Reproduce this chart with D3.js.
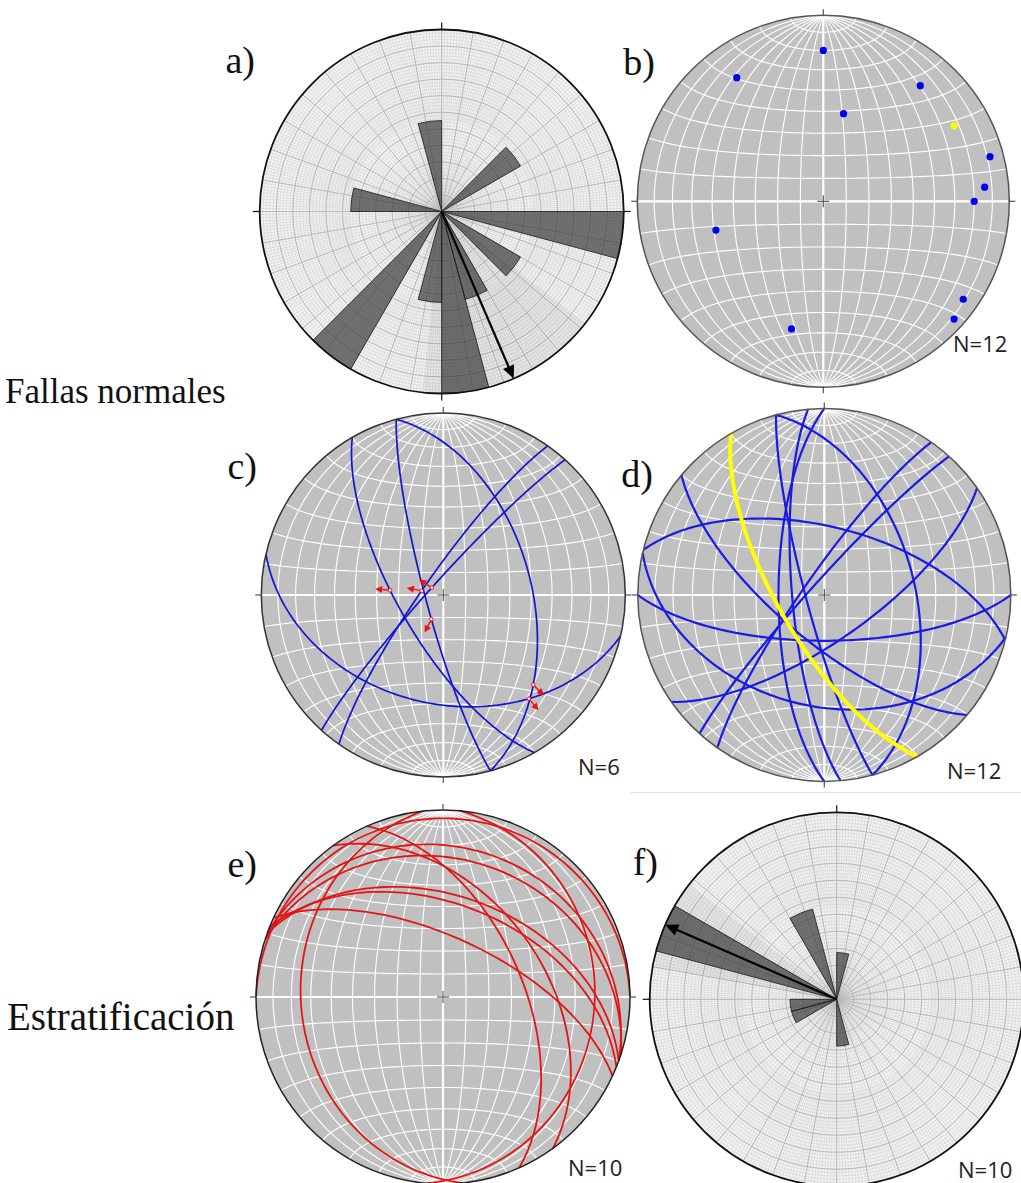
<!DOCTYPE html>
<html>
<head>
<meta charset="utf-8">
<script src="https://cdn.jsdelivr.net/npm/d3@7"></script>
<style>
  body { margin: 0; background: #fff; }
</style>
</head>
<body>
<svg id="fig" width="1021" height="1183"></svg>
<script>
// ---- data ----

// a) rose of fault strikes: 15 degree bins (start azimuth) and counts
var roseABins = [345, 45, 90, 120, 150, 165, 180, 210, 270];
var roseACounts = [1, 1, 2, 1, 1, 2, 1, 2, 1];
var roseAMean = 156.7;
var roseAConf = [128, 186];

// f) rose of bedding
var roseFBins = [285, 330, 0, 255, 240, 165];
var roseFCounts = [4, 2, 1, 1, 1, 1];
var roseFMean = 293.5;
var roseFConf = [280, 308];

// normal faults (dip direction / dip); b) shows their poles, d) their great circles
var faultDipDir = [180, 145, 220, 193, 240, 255, 265, 270, 75, 305, 312, 14];
var faultDip    = [70, 70, 70, 40, 70, 82, 76, 70, 50, 81, 84, 60];
var faultHighlight = 4;   // the yellow one

// c) faults with striae: index into the fault list, rake of the stria (deg from strike)
var striaFault = [4, 9, 10, 5, 8, 3];
var striaRake  = [103.5, 86, 89, 81, 138, 45];

// e) bedding planes (dip direction / dip)
var bedDipDir = [0, 20, 18, 20, 22, 25, 66, 54, 264, 95];
var bedDip    = [5, 21, 27, 45, 49, 64, 55, 45, 25, 20];

// ---- helpers ----
var svg = d3.select("#fig");
var rad = Math.PI / 180;

function lineVec(trend, plunge) {
    var t = trend * rad, p = plunge * rad;
    return [Math.cos(p) * Math.cos(t), Math.cos(p) * Math.sin(t), Math.sin(p)];
}
// lower hemisphere vector (north, east, down) -> lon/lat on an equatorial net
function toLonLat(v) {
    var n = v[0], e = v[1], d = v[2];
    if (d < 0) { n = -n; e = -e; d = -d; }
    var len = Math.hypot(n, e, d);
    return [Math.atan2(e, d) / rad, Math.asin(Math.max(-1, Math.min(1, n / len))) / rad];
}
function planeVec(dipDir, dip, rake) {
    var s = lineVec(dipDir - 90, 0), dv = lineVec(dipDir, dip);
    var c = Math.cos(rake * rad), sn = Math.sin(rake * rad);
    return [c * s[0] + sn * dv[0], c * s[1] + sn * dv[1], c * s[2] + sn * dv[2]];
}
function greatCircle(dipDir, dip) {
    return {
        type: "LineString",
        coordinates: d3.range(0, 180.001, 2).map(function(r) { return toLonLat(planeVec(dipDir, dip, r)); })
    };
}

function ticks(g, cx, cy, R, len, color) {
    [[0, -1], [1, 0], [0, 1], [-1, 0]].forEach(function(d) {
        g.append("line")
            .attr("x1", cx + d[0] * (R - 1)).attr("y1", cy + d[1] * (R - 1))
            .attr("x2", cx + d[0] * (R + len)).attr("y2", cy + d[1] * (R + len))
            .attr("stroke", color).attr("stroke-width", 1.2);
    });
}

// Schmidt (equal area) net
function stereonet(cx, cy, R, rimColor) {
    var proj = d3.geoAzimuthalEqualArea().rotate([0, 0])
        .scale(R / Math.SQRT2).translate([cx, cy]);
    var path = d3.geoPath(proj);
    var g = svg.append("g");
    g.append("circle").attr("cx", cx).attr("cy", cy).attr("r", R).attr("fill", "#c0c0c0");

    var grid = g.append("g").attr("fill", "none").attr("stroke", "#fff");
    d3.range(-80, 81, 10).filter(function(l) { return l !== 0; }).forEach(function(lon) {
        grid.append("path").attr("stroke-width", 1.1)
            .attr("d", path({type: "LineString", coordinates: d3.range(-90, 90.01, 2).map(function(lat) { return [lon, lat]; })}));
    });
    d3.range(-80, 81, 10).filter(function(l) { return l !== 0; }).forEach(function(lat) {
        grid.append("path").attr("stroke-width", 1.1)
            .attr("d", path({type: "LineString", coordinates: d3.range(-90, 90.01, 2).map(function(lon) { return [lon, lat]; })}));
    });
    grid.append("path").attr("stroke-width", 2.2)
        .attr("d", path({type: "LineString", coordinates: [[-90, 0], [0, 0], [90, 0]]}));
    grid.append("path").attr("stroke-width", 2.2)
        .attr("d", path({type: "LineString", coordinates: [[0, -90], [0, 0], [0, 90]]}));

    // centre cross
    g.append("path").attr("d", "M" + (cx - 6) + "," + cy + "H" + (cx + 6) + "M" + cx + "," + (cy - 6) + "V" + (cy + 6))
        .attr("stroke", "#444").attr("stroke-width", 1);
    var marks = g.append("g");
    g.append("circle").attr("cx", cx).attr("cy", cy).attr("r", R)
        .attr("fill", "none").attr("stroke", rimColor).attr("stroke-width", 1.5);
    ticks(g, cx, cy, R, 6, "#555");
    return {g: g, marks: marks, proj: proj, path: path};
}

// rose diagram on polar graph paper
function rose(cx, cy, R, bins, counts, mean, conf) {
    var g = svg.append("g").attr("transform", "translate(" + cx + "," + cy + ")");
    g.append("circle").attr("r", R).attr("fill", "#f2f2f2");

    var fine = g.append("g").attr("fill", "none").attr("stroke", "#cfcfcf").attr("stroke-width", 0.5);
    d3.range(1, 55).forEach(function(i) { fine.append("circle").attr("r", R * i / 55); });
    d3.range(0, 360, 1).forEach(function(a) {
        var r0 = (a % 2 === 0) ? 0 : R * 0.5;
        fine.append("line")
            .attr("x1", r0 * Math.sin(a * rad)).attr("y1", -r0 * Math.cos(a * rad))
            .attr("x2", R * Math.sin(a * rad)).attr("y2", -R * Math.cos(a * rad));
    });
    var med = g.append("g").attr("fill", "none").attr("stroke", "#b4b4b4").attr("stroke-width", 0.9);
    d3.range(1, 11).forEach(function(i) { med.append("circle").attr("r", R * i / 11); });
    d3.range(0, 360, 10).forEach(function(a) {
        med.append("line").attr("x1", 0).attr("y1", 0)
            .attr("x2", R * Math.sin(a * rad)).attr("y2", -R * Math.cos(a * rad));
    });

    var r = d3.scaleLinear().domain([0, d3.max(counts)]).range([0, R]);
    var petals = bins.map(function(b, i) { return {bin: b, count: counts[i]}; });

    g.append("path")
        .attr("d", d3.arc()({innerRadius: 0, outerRadius: R, startAngle: conf[0] * rad, endAngle: conf[1] * rad}))
        .attr("fill", "#000").attr("fill-opacity", 0.05);

    g.selectAll("path.petal").data(petals).join("path")
        .attr("class", "petal")
        .attr("d", d3.arc().innerRadius(0)
            .outerRadius(function(d) { return r(d.count); })
            .startAngle(function(d) { return d.bin * rad; })
            .endAngle(function(d) { return (d.bin + 15) * rad; }))
        .attr("fill", "#3a3a3a").attr("fill-opacity", 0.7)
        .attr("stroke", "#1a1a1a").attr("stroke-width", 0.8);

    // mean direction arrow
    var ux = Math.sin(mean * rad), uy = -Math.cos(mean * rad);
    var tip = r(d3.max(counts));
    g.append("line").attr("x1", 0).attr("y1", 0)
        .attr("x2", ux * (tip - 8)).attr("y2", uy * (tip - 8))
        .attr("stroke", "#000").attr("stroke-width", 2.2);
    var bx = ux * (tip - 13), by = uy * (tip - 13);
    g.append("path")
        .attr("d", "M" + (ux * tip) + "," + (uy * tip) +
            "L" + (bx - uy * 6) + "," + (by + ux * 6) +
            "L" + (bx + uy * 6) + "," + (by - ux * 6) + "Z")
        .attr("fill", "#000");

    g.append("circle").attr("r", R).attr("fill", "none").attr("stroke", "#111").attr("stroke-width", 1.8);
    ticks(g, 0, 0, R, 7, "#111");
    return g;
}

// ---- a) ----
rose(441.7, 211.5, 182, roseABins, roseACounts, roseAMean, roseAConf);

// ---- b) poles of the faults ----
var netB = stereonet(823.3, 201.3, 186, "#555");
faultDipDir.forEach(function(dd, i) {
    var p = netB.proj(toLonLat(lineVec(dd + 180, 90 - faultDip[i])));
    netB.marks.append("circle").attr("cx", p[0]).attr("cy", p[1]).attr("r", 3.6)
        .attr("fill", i === faultHighlight ? "#ffff00" : "#0000ee");
});

// ---- c) faults with striae ----
var netC = stereonet(443.3, 595, 182, "#333");
striaFault.forEach(function(fi) {
    netC.marks.append("path").attr("d", netC.path(greatCircle(faultDipDir[fi], faultDip[fi])))
        .attr("fill", "none").attr("stroke", "#1414d2").attr("stroke-width", 1.7);
});
striaFault.forEach(function(fi, k) {
    var v = planeVec(faultDipDir[fi], faultDip[fi], striaRake[k]);
    var p = netC.proj(toLonLat(v));
    // hanging wall moves down the stria: arrow points outward along its trend
    var trend = Math.atan2(v[1], v[0]) / rad;
    var ux = Math.sin(trend * rad), uy = -Math.cos(trend * rad);
    var L = 15;
    netC.marks.append("line")
        .attr("x1", p[0]).attr("y1", p[1])
        .attr("x2", p[0] + ux * (L - 5)).attr("y2", p[1] + uy * (L - 5))
        .attr("stroke", "#ee1111").attr("stroke-width", 1.4);
    var bx = p[0] + ux * (L - 7), by = p[1] + uy * (L - 7);
    netC.marks.append("path")
        .attr("d", "M" + (p[0] + ux * L) + "," + (p[1] + uy * L) +
            "L" + (bx - uy * 3.5) + "," + (by + ux * 3.5) +
            "L" + (bx + uy * 3.5) + "," + (by - ux * 3.5) + "Z")
        .attr("fill", "#ee1111");
    netC.marks.append("circle").attr("cx", p[0]).attr("cy", p[1]).attr("r", 1.8)
        .attr("fill", "#fff").attr("stroke", "#ee1111").attr("stroke-width", 1);
});

// ---- d) all faults ----
var netD = stereonet(824.3, 595, 186.5, "#555");
faultDipDir.forEach(function(dd, i) {
    if (i === faultHighlight) return;
    netD.marks.append("path").attr("d", netD.path(greatCircle(dd, faultDip[i])))
        .attr("fill", "none").attr("stroke", "#1a1ae6").attr("stroke-width", 2.2);
});
netD.marks.append("path")
    .attr("d", netD.path(greatCircle(faultDipDir[faultHighlight], faultDip[faultHighlight])))
    .attr("fill", "none").attr("stroke", "#ffff00").attr("stroke-width", 4);

// ---- e) bedding ----
var netE = stereonet(443, 997, 187, "#222");
bedDipDir.forEach(function(dd, i) {
    netE.marks.append("path").attr("d", netE.path(greatCircle(dd, bedDip[i])))
        .attr("fill", "none").attr("stroke", "#e41414").attr("stroke-width", 1.8);
});

// ---- f) ----
rose(836.7, 999.3, 187, roseFBins, roseFCounts, roseFMean, roseFConf);

// separator under d)
svg.append("line").attr("x1", 630).attr("x2", 1021).attr("y1", 792.5).attr("y2", 792.5)
    .attr("stroke", "#e4e4e4").attr("stroke-width", 1);

// ---- text ----
var serif = "'Liberation Serif', 'Times New Roman', serif";
var panelLabels = [
    {t: "a)", x: 255, y: 73}, {t: "b)", x: 655, y: 75},
    {t: "c)", x: 257, y: 479}, {t: "d)", x: 653, y: 487},
    {t: "e)", x: 257, y: 877}, {t: "f)", x: 658, y: 875}
];
panelLabels.forEach(function(l) {
    svg.append("text").attr("x", l.x).attr("y", l.y).attr("text-anchor", "end")
        .attr("font-family", serif).attr("font-size", 38).attr("fill", "#111").text(l.t);
});
svg.append("text").attr("x", 5).attr("y", 403).attr("font-family", serif)
    .attr("font-size", 35).attr("fill", "#111").text("Fallas normales");
svg.append("text").attr("x", 7).attr("y", 1030).attr("font-family", serif)
    .attr("font-size", 39).attr("fill", "#111").text("Estratificación");

var counts = [
    {t: "N=12", x: 953, y: 352}, {t: "N=6", x: 578, y: 775},
    {t: "N=12", x: 947, y: 779}, {t: "N=10", x: 568, y: 1176},
    {t: "N=10", x: 958, y: 1178}
];
counts.forEach(function(l) {
    svg.append("text").attr("x", l.x).attr("y", l.y)
        .attr("font-family", "'Open Sans', sans-serif").attr("font-size", 22)
        .attr("fill", "#222").text(l.t);
});
</script>
</body>
</html>
